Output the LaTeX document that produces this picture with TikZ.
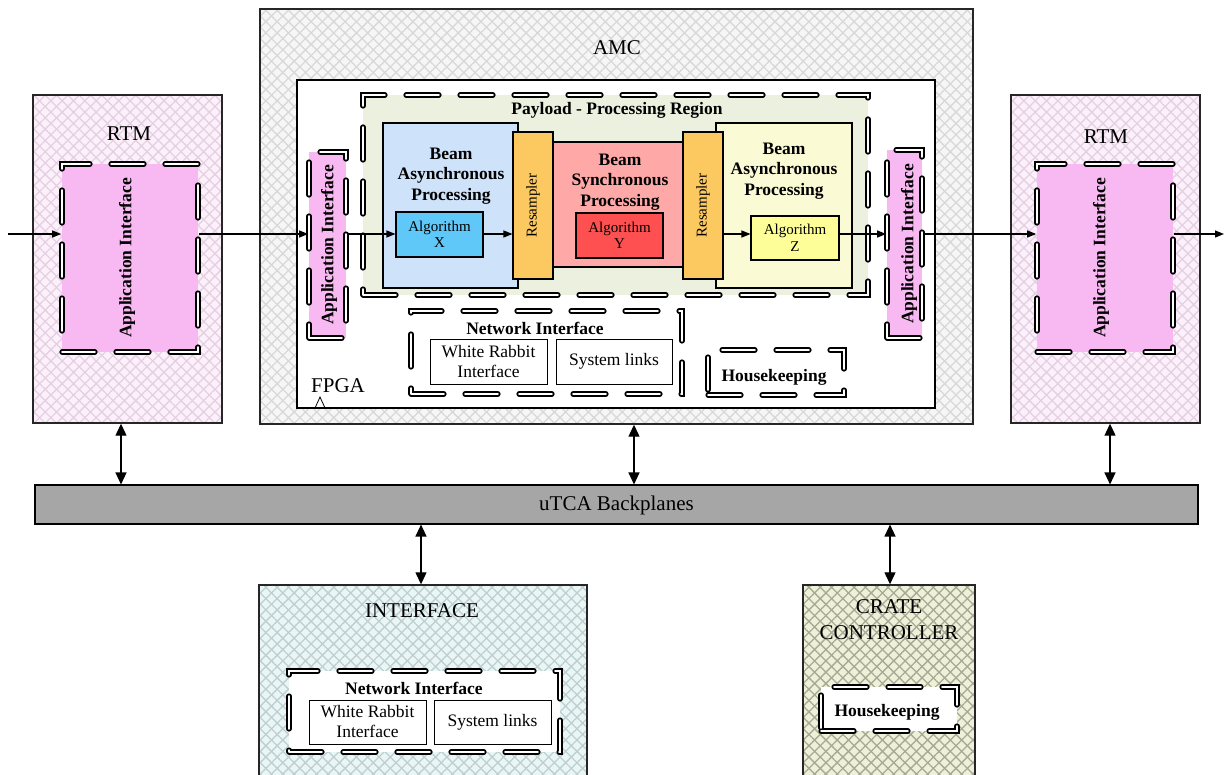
\documentclass[tikz,border=0pt]{standalone}
\usepackage{fontspec}
\setmainfont{Liberation Serif}
\usetikzlibrary{patterns.meta,arrows.meta}

% fills
\definecolor{amcbg}{RGB}{246,246,246}
\definecolor{amcln}{RGB}{216,216,216}
\definecolor{rtmbg}{RGB}{252,240,251}
\definecolor{rtmln}{RGB}{228,208,226}
\definecolor{ifcbg}{RGB}{232,246,246}
\definecolor{ifcln}{RGB}{192,206,208}
\definecolor{ccbg}{RGB}{238,240,218}
\definecolor{ccln}{RGB}{166,170,146}
\definecolor{aipink}{RGB}{248,184,242}
\definecolor{payload}{RGB}{235,241,222}
\definecolor{asyncL}{RGB}{206,226,250}
\definecolor{algX}{RGB}{96,200,248}
\definecolor{resamp}{RGB}{252,200,96}
\definecolor{sync}{RGB}{254,168,168}
\definecolor{algY}{RGB}{254,80,80}
\definecolor{asyncR}{RGB}{250,250,212}
\definecolor{algZ}{RGB}{254,254,152}
\definecolor{backpl}{RGB}{166,166,166}

\tikzset{
  hatch/.style 2 args={
    preaction={fill=#1},
    preaction={pattern={Lines[angle=45,distance=8pt,line width=1.3pt]},pattern color=#2},
    preaction={pattern={Lines[angle=-45,distance=8pt,line width=1.3pt]},pattern color=#2}},
  sz/.style 2 args={minimum width=#1pt, minimum height=#2pt},
  box/.style={rectangle, draw=black, line width=1.1pt, inner sep=0pt},
  outer/.style={rectangle, draw=black!85, line width=1.4pt, inner sep=0pt},
  dbord/.style={rectangle, inner sep=0pt, draw=black, line width=1.7pt,
    double=white, double distance=1.8pt, dash pattern=on 33pt off 21pt,
    line cap=round},
  arr/.style={-{Triangle[length=9pt,width=7pt]}, line width=1.2pt},
  darr/.style={{Triangle[length=12pt,width=11pt]}-{Triangle[length=12pt,width=11pt]}, line width=1.2pt},
  big/.style={font=\fontsize{21}{26}\selectfont, align=center, inner sep=0pt},
  bl/.style={font=\fontsize{17.5}{20.5}\selectfont\bfseries, align=center, inner sep=0pt},
  nm/.style={font=\fontsize{17.5}{20}\selectfont, align=center, inner sep=0pt},
  sm/.style={font=\fontsize{15}{16.5}\selectfont, align=center, inner sep=0pt},
}

\begin{document}
\begin{tikzpicture}[x=1pt,y=-1pt]
\useasboundingbox (0,0) rectangle (1225,774);

% ---- AMC carrier with FPGA ----
\node[outer, hatch={amcbg}{amcln}, sz={713}{415}] (amc) at (616.5,216.5) {};
\node[big] (amcT) at (617,48) {AMC};
\node[box, fill=white, sz={638}{328}] (fpga) at (616,244) {};
\node[big] (fpgaT) at (338,386) {FPGA};
\draw[line width=0.8pt] (315,408) -- (320,397) -- (325,408);

% ---- rear transition modules ----
\node[outer, hatch={rtmbg}{rtmln}, sz={189}{328}] (rtmL) at (127.5,259) {};
\node[big] (rtmLT) at (129,134) {RTM};
\node[dbord, fill=aipink, sz={136}{188}] (aiL) at (130,258) {};
\node[bl, rotate=90] (aiLT) at (127,258) {Application Interface};

\node[outer, hatch={rtmbg}{rtmln}, sz={189}{328}] (rtmR) at (1105.5,259) {};
\node[big] (rtmRT) at (1106,137) {RTM};
\node[dbord, fill=aipink, sz={136}{188}] (aiR) at (1105,258) {};
\node[bl, rotate=90] (aiRT) at (1101,258) {Application Interface};

% ---- payload region ----
\node[dbord, fill=payload, sz={505}{200}] (pay) at (615.5,195) {};
\node[bl] (payT) at (617,110) {Payload - Processing Region};

\node[dbord, fill=aipink, sz={37}{186}] (aiAL) at (327.5,245) {};
\node[bl, rotate=90] (aiALT) at (329,245) {Application Interface};
\node[dbord, fill=aipink, sz={35}{188}] (aiAR) at (904.5,244) {};
\node[bl, rotate=90] (aiART) at (909,244) {Application Interface};

\node[box, fill=asyncL, sz={135}{165}] (baL) at (450.5,205.5) {};
\node[bl] (baLT) at (451,176) {Beam\\Asynchronous\\Processing};
\node[box, fill=algX, sz={87}{45}] (algX) at (439.5,234.5) {};
\node[sm] (algXT) at (439.5,234.5) {Algorithm\\X};

\node[box, fill=sync, sz={130}{125}] (bs) at (618,204.5) {};
\node[bl] (bsT) at (620,182) {Beam\\Synchronous\\Processing};
\node[box, fill=algY, sz={87}{45}] (algY) at (619.5,235.5) {};
\node[sm] (algYT) at (619.5,235.5) {Algorithm\\Y};

\node[box, fill=asyncR, sz={136}{165}] (baR) at (784,205.5) {};
\node[bl] (baRT) at (784,171) {Beam\\Asynchronous\\Processing};
\node[box, fill=algZ, sz={88}{44}] (algZ) at (795,238) {};
\node[sm] (algZT) at (795,238) {Algorithm\\Z};

\node[box, fill=resamp, sz={40}{147}] (rsL) at (533,205.5) {};
\node[sm, rotate=90] (rsLT) at (533,205.5) {Resampler};
\node[box, fill=resamp, sz={40}{147}] (rsR) at (703,205.5) {};
\node[sm, rotate=90] (rsRT) at (703,205.5) {Resampler};

% ---- AMC network interface and housekeeping ----
\node[dbord, fill=white, sz={271}{83}] (niA) at (546.5,352.5) {};
\node[bl] (niAT) at (535,328) {Network Interface};
\node[box, line width=0.9pt, fill=white, sz={117}{45}] (wrA) at (488.5,361.5) {};
\node[nm] (wrAT) at (488.5,361.5) {White Rabbit\\Interface};
\node[box, line width=0.9pt, fill=white, sz={116}{45}] (slA) at (614,361.5) {};
\node[nm] (slAT) at (614,361.5) {System links};
\node[dbord, fill=white, sz={136}{45}] (hkA) at (776,372.5) {};
\node[bl] (hkAT) at (774,377) {Housekeeping};

% ---- backplane ----
\node[box, fill=backpl, sz={1163}{39}] (bp) at (616.5,504.5) {};
\node[big] (bpT) at (616.5,505) {uTCA Backplanes};

% ---- interface board ----
\node[outer, hatch={ifcbg}{ifcln}, sz={328}{205}] (ifc) at (423,687.5) {};
\node[big] (ifcT) at (422,611) {INTERFACE};
\node[dbord, fill=white, sz={271}{81}] (niB) at (424.5,711.5) {};
\node[bl] (niBT) at (414,688) {Network Interface};
\node[box, line width=0.9pt, fill=white, sz={117}{44}] (wrB) at (367.5,722) {};
\node[nm] (wrBT) at (367.5,722) {White Rabbit\\Interface};
\node[box, line width=0.9pt, fill=white, sz={117}{44}] (slB) at (492.5,722) {};
\node[nm] (slBT) at (492.5,722) {System links};

% ---- crate controller ----
\node[outer, hatch={ccbg}{ccln}, sz={172}{205}] (cc) at (889,687.5) {};
\node[big] (ccT) at (889,620) {CRATE\\CONTROLLER};
\node[dbord, fill=white, sz={136}{44}] (hkB) at (889,709) {};
\node[bl] (hkBT) at (887,712) {Housekeeping};

% ---- signal path ----
\coordinate (in) at (8,234);
\coordinate (out) at (1224,234);
\draw[arr] (in) -- (in -| aiL.west);
\draw[arr] (aiL.east |- in) -- (aiAL.west |- in);
\draw[arr] (aiAL.east |- in) -- (algX.west |- in);
\draw[arr] (algX.east |- in) -- (rsL.west |- in);
\draw[arr] (rsR.east |- in) -- (algZ.west |- in);
\draw[arr] (algZ.east |- in) -- (aiAR.west |- in);
\draw[arr] (aiAR.east |- in) -- (aiR.west |- in);
\draw[arr] (aiR.east |- in) -- (out);

% ---- backplane links ----
\draw[darr] ([xshift=-6.5pt]rtmL.south) -- ([xshift=-6.5pt]rtmL.south |- bp.north);
\draw[darr] ([xshift=17.5pt]amc.south) -- ([xshift=17.5pt]amc.south |- bp.north);
\draw[darr] ([xshift=4.5pt]rtmR.south) -- ([xshift=4.5pt]rtmR.south |- bp.north);
\draw[darr] ([xshift=-2pt]ifc.north |- bp.south) -- ([xshift=-2pt]ifc.north);
\draw[darr] ([xshift=1pt]cc.north |- bp.south) -- ([xshift=1pt]cc.north);
\end{tikzpicture}
\end{document}
